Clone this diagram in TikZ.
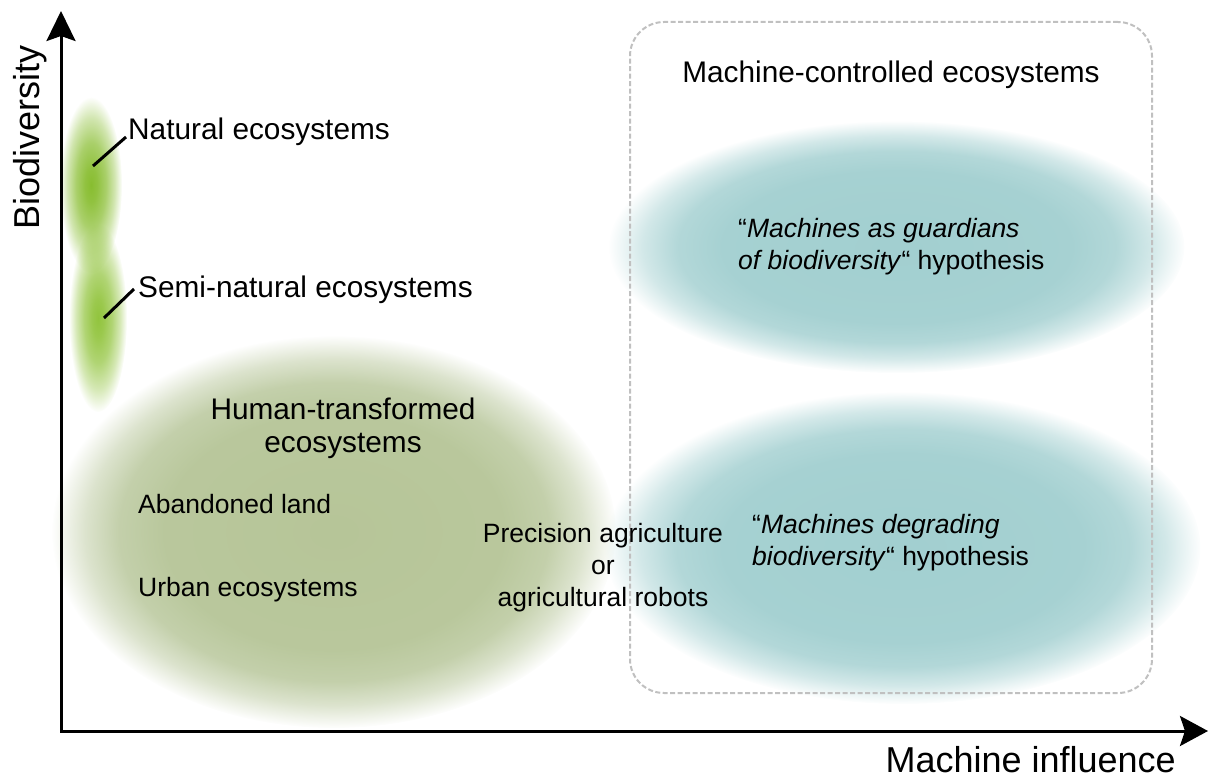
\documentclass[tikz,border=0pt]{standalone}
\usepackage{fontspec}
\setmainfont{Liberation Sans}
\usetikzlibrary{arrows.meta,fadings}

\definecolor{natgreen}{RGB}{136,189,48}
\definecolor{semigreen}{RGB}{146,196,62}
\definecolor{humanolive}{RGB}{182,197,152}
\definecolor{machteal}{RGB}{162,207,208}
\definecolor{boxgray}{RGB}{192,192,192}

% soft-edged blobs: opaque in the middle, fully transparent at the rim (rim = 25bp)
\pgfdeclareradialshading{softblobshade}{\pgfpointorigin}{color(0bp)=(white); color(5bp)=(white!92!black); color(12bp)=(white!72!black); color(19bp)=(white!38!black); color(25bp)=(black); color(50bp)=(black)}
\pgfdeclarefading{softblob}{\pgfuseshading{softblobshade}}
\pgfdeclareradialshading{wideblobshade}{\pgfpointorigin}{color(0bp)=(white); color(15bp)=(white!96!black); color(19bp)=(white!82!black); color(22bp)=(white!48!black); color(25bp)=(black); color(50bp)=(black)}
\pgfdeclarefading{wideblob}{\pgfuseshading{wideblobshade}}

\tikzset{
  lbl/.style={inner sep=0pt, font=\fontsize{29.8}{33}\selectfont},
  smalllbl/.style={inner sep=0pt, font=\fontsize{26.5}{32}\selectfont},
  axislbl/.style={inner sep=0pt, font=\fontsize{36}{40}\selectfont},
  axisline/.style={line width=3pt,
    {Stealth[length=30pt,width=29pt,inset=5pt]}-{Stealth[length=28pt,width=30pt,inset=5pt]}},
  leader/.style={line width=3pt},
  softfill/.style={fill=#1, path fading=softblob, fit fading=true},
  widefill/.style={fill=#1, path fading=wideblob, fit fading=true},
  regionbox/.style={draw=boxgray, line width=2pt, dash pattern=on 5pt off 2.5pt,
    rounded corners=34pt, minimum width=522pt, minimum height=671pt, inner sep=0pt},
}

\begin{document}
\begin{tikzpicture}[x=1pt,y=-1pt]
\useasboundingbox (0,0) rectangle (1209,778);

% blobs
\fill[softfill=natgreen] (91,185) ellipse [x radius=31pt, y radius=88pt];
\fill[softfill=semigreen] (98,318) ellipse [x radius=29pt, y radius=94pt];
\fill[widefill=humanolive] (334,532) ellipse [x radius=282pt, y radius=196pt];
\fill[widefill=machteal] (897,247) ellipse [x radius=288pt, y radius=126pt];
\fill[widefill=machteal] (903,548) ellipse [x radius=298pt, y radius=156pt];

% machine-controlled region
\node[regionbox] (mcbox) at (891,357.5) {};

% axes
\coordinate (origin) at (61,731);
\coordinate (ytip) at (61,11);
\coordinate (xtip) at (1208,731);
\draw[axisline] (ytip) -- (origin) -- (xtip);
\node[axislbl, rotate=90, anchor=base west] (ylab) at (39,230) {Biodiversity};
\node[axislbl, anchor=base east] (xlab) at (1176,772) {Machine influence};

% labels
\node[lbl, anchor=base west] (nat) at (128,140) {Natural ecosystems};
\node[lbl, anchor=base west] (semi) at (138,297) {Semi-natural ecosystems};
\coordinate (natpt) at (93,166);
\coordinate (semipt) at (104,318);
\draw[leader] (natpt) -- ([xshift=-2pt,yshift=3pt]nat.base west);
\draw[leader] (semipt) -- ([xshift=-4pt,yshift=8pt]semi.base west);

\node[lbl, align=center, anchor=north] (human) at (343,398) {Human-transformed\\ecosystems};
\node[smalllbl, anchor=base west] (aband) at (138,513) {Abandoned land};
\node[smalllbl, anchor=base west] (urban) at (138,596) {Urban ecosystems};
\node[smalllbl, align=center, anchor=north] (prec) at (603,523) {Precision agriculture\\or\\agricultural robots};

\node[lbl, anchor=base] (mctitle) at (891,83) {Machine-controlled ecosystems};
\node[smalllbl, align=left, anchor=north west] (guard) at (738,218)
  {“\textit{Machines as guardians}\\\textit{of biodiversity}“ hypothesis};
\node[smalllbl, align=left, anchor=north west] (degr) at (752,514)
  {“\textit{Machines degrading}\\\textit{biodiversity}“ hypothesis};
\end{tikzpicture}
\end{document}
